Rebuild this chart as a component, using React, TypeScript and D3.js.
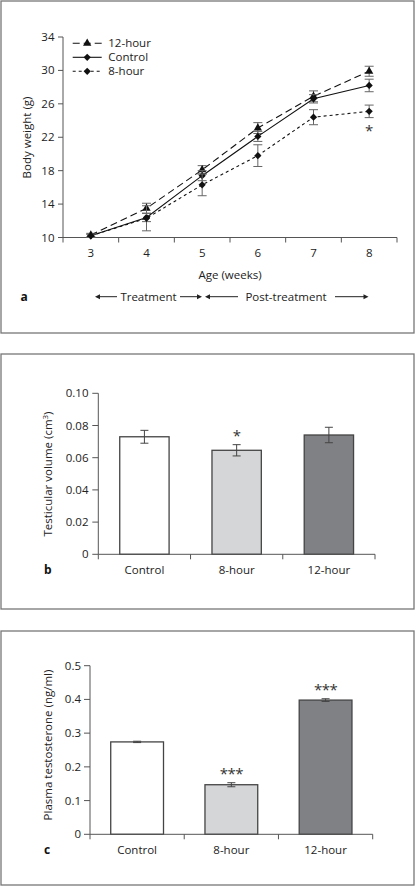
import React from "react";
import * as d3 from "d3";

// ---------- data ----------
const weeks = [3, 4, 5, 6, 7, 8];
const h12 = [10.3, 13.5, 18.1, 23.1, 26.9, 29.9];
const h12Err = [0.2, 0.6, 0.5, 0.65, 0.65, 0.6];
const control = [10.2, 12.4, 17.4, 22.1, 26.6, 28.2];
const controlErr = [0.2, 0.5, 0.6, 0.6, 0.5, 0.75];
const h8 = [10.2, 12.3, 16.3, 19.8, 24.4, 25.1];
const h8Err = [0.2, 1.5, 1.3, 1.3, 0.9, 0.75];
const weightTicks = [10, 14, 18, 22, 26, 30, 34];

const groups = ["Control", "8-hour", "12-hour"];
const groupColors = ["#ffffff", "#d5d6d8", "#808185"];
const volume = [0.073, 0.0646, 0.0741];
const volumeErr = [0.004, 0.0035, 0.0048];
const volumeStars = ["", "*", ""];
const volumeTicks = [0, 0.02, 0.04, 0.06, 0.08, 0.1];

const testo = [0.274, 0.147, 0.398];
const testoErr = [0.002, 0.006, 0.004];
const testoStars = ["", "***", "***"];
const testoTicks = [0, 0.1, 0.2, 0.3, 0.4, 0.5];

const FONT = "'Open Sans', sans-serif";
const FS = 11.5;
const AX = "#555";
const ERR = "#666";

function LinePanel() {
  const x = d3.scaleBand<number>().domain(weeks).range([63, 397]).padding(0);
  const y = d3.scaleLinear().domain([10, 34]).range([237.5, 37]);
  const cx = (w: number) => (x(w) as number) + x.bandwidth() / 2;
  const line = d3
    .line<number>()
    .x((_, i) => cx(weeks[i]))
    .y((d) => y(d));
  const series = [
    { name: "12-hour", vals: h12, err: h12Err, dash: "7,4", sym: d3.symbolTriangle, size: 30, rot: 0 },
    { name: "Control", vals: control, err: controlErr, dash: "", sym: d3.symbolSquare, size: 26, rot: 45 },
    { name: "8-hour", vals: h8, err: h8Err, dash: "3,3", sym: d3.symbolSquare, size: 26, rot: 45 },
  ];
  const boundaries = [...weeks.map((w) => x(w) as number), 397];
  return (
    <g>
      <rect x={1} y={1} width={413} height={332} fill="none" stroke="#777" strokeWidth={1.3} />
      {/* y axis */}
      <line x1={63} x2={63} y1={37} y2={237.5} stroke={AX} strokeWidth={1} />
      {weightTicks.map((t) => (
        <g key={t}>
          <line x1={58} x2={63} y1={y(t)} y2={y(t)} stroke={AX} />
          <text x={54.5} y={y(t) + 4} textAnchor="end" fontSize={FS} fill="#222">{t}</text>
        </g>
      ))}
      {/* x axis */}
      <line x1={63} x2={397} y1={237.5} y2={237.5} stroke={AX} />
      {boundaries.map((b, i) => (
        <line key={i} x1={b} x2={b} y1={237.5} y2={242.5} stroke={AX} />
      ))}
      {weeks.map((w) => (
        <text key={w} x={cx(w)} y={257} textAnchor="middle" fontSize={FS} fill="#222">{w}</text>
      ))}
      <text x={230} y={279} textAnchor="middle" fontSize={FS} fill="#222">Age (weeks)</text>
      <text transform="translate(31,137.5) rotate(-90)" textAnchor="middle" fontSize={FS} fill="#222">Body weight (g)</text>
      {/* series */}
      {series.map((s) => (
        <g key={s.name}>
          {s.vals.map((v, i) => {
            const px = cx(weeks[i]);
            return (
              <g key={i} stroke={ERR} strokeWidth={1}>
                <line x1={px} x2={px} y1={y(v - s.err[i])} y2={y(v + s.err[i])} />
                <line x1={px - 4.5} x2={px + 4.5} y1={y(v - s.err[i])} y2={y(v - s.err[i])} />
                <line x1={px - 4.5} x2={px + 4.5} y1={y(v + s.err[i])} y2={y(v + s.err[i])} />
              </g>
            );
          })}
          <path d={line(s.vals) || ""} fill="none" stroke="#111" strokeWidth={1.1} strokeDasharray={s.dash} />
          {s.vals.map((v, i) => (
            <path key={i} d={d3.symbol().type(s.sym).size(s.size)() || ""} transform={`translate(${cx(weeks[i])},${y(v)}) rotate(${s.rot})`} fill="#111" />
          ))}
        </g>
      ))}
      <text x={cx(8)} y={135.5} textAnchor="middle" fontSize={15} fill="#333">*</text>
      {/* legend */}
      {series.map((s, i) => {
        const ly = 43.3 + i * 14;
        return (
          <g key={s.name}>
            <line x1={72.7} x2={101.7} y1={ly} y2={ly} stroke="#111" strokeWidth={1.1} strokeDasharray={s.dash} />
            <path d={d3.symbol().type(s.sym).size(s.size)() || ""} transform={`translate(87.2,${ly}) rotate(${s.rot})`} fill="#111" />
            <text x={108.3} y={ly + 4} fontSize={FS} fill="#222">{s.name}</text>
          </g>
        );
      })}
      {/* panel letter and treatment arrows */}
      <text x={20.5} y={300.5} fontSize={12} fontWeight="bold" fill="#111">a</text>
      <g stroke="#222" strokeWidth={1} fill="#222" fontSize={FS}>
        <line x1={97} x2={117} y1={296.7} y2={296.7} />
        <path d="M95,296.7 L100,294.2 L100,299.2 Z" stroke="none" />
        <line x1={180} x2={199} y1={296.7} y2={296.7} />
        <path d="M202,296.7 L197,294.2 L197,299.2 Z" stroke="none" />
        <line x1={207} x2={238} y1={296.7} y2={296.7} />
        <path d="M205,296.7 L210,294.2 L210,299.2 Z" stroke="none" />
        <line x1={335} x2={366} y1={296.7} y2={296.7} />
        <path d="M368.5,296.7 L363.5,294.2 L363.5,299.2 Z" stroke="none" />
      </g>
      <text x={148.5} y={300.7} textAnchor="middle" fontSize={FS} fill="#222">Treatment</text>
      <text x={286} y={300.7} textAnchor="middle" fontSize={FS} fill="#222">Post-treatment</text>
    </g>
  );
}

type BarProps = {
  top: number; height: number; x0: number; x1: number; y0: number; y1: number;
  max: number; vals: number[]; errs: number[]; stars: string[]; ticks: number[];
  fmt: (v: number) => string; labelEnd: number; ylabel: React.ReactNode; ylabelY: number;
  letter: string; barFrac: number; starSize: number;
};

function BarPanel(p: BarProps) {
  const x = d3.scaleBand<string>().domain(groups).range([p.x0, p.x1]).padding(0);
  const y = d3.scaleLinear().domain([0, p.max]).range([p.y0, p.y1]);
  const bw = x.bandwidth() * p.barFrac;
  const boundaries = [...groups.map((g) => x(g) as number), p.x1];
  return (
    <g>
      <rect x={1} y={p.top} width={413} height={p.height} fill="none" stroke="#777" strokeWidth={1.3} />
      <line x1={p.x0} x2={p.x0} y1={p.y1} y2={p.y0} stroke={AX} />
      {p.ticks.map((t) => (
        <g key={t}>
          <line x1={p.x0 - 6} x2={p.x0} y1={y(t)} y2={y(t)} stroke={AX} />
          <text x={p.labelEnd} y={y(t) + 4} textAnchor="end" fontSize={FS} fill="#222">{p.fmt(t)}</text>
        </g>
      ))}
      {groups.map((g, i) => {
        const cx = (x(g) as number) + x.bandwidth() / 2;
        const v = p.vals[i];
        const e = p.errs[i];
        return (
          <g key={g}>
            <rect x={cx - bw / 2} y={y(v)} width={bw} height={p.y0 - y(v)} fill={groupColors[i]} stroke="#444" strokeWidth={1.3} />
            <g stroke="#444" strokeWidth={1}>
              <line x1={cx} x2={cx} y1={y(v - e)} y2={y(v + e)} />
              <line x1={cx - 4} x2={cx + 4} y1={y(v - e)} y2={y(v - e)} />
              <line x1={cx - 4} x2={cx + 4} y1={y(v + e)} y2={y(v + e)} />
            </g>
            {p.stars[i] && (
              <text x={cx} y={y(v + e) - 4} textAnchor="middle" fontSize={p.starSize} fill="#333" letterSpacing={-0.5}>{p.stars[i]}</text>
            )}
            <text x={cx} y={p.y0 + 19.5} textAnchor="middle" fontSize={FS} fill="#222">{g}</text>
          </g>
        );
      })}
      <line x1={p.x0} x2={p.x1} y1={p.y0} y2={p.y0} stroke={AX} />
      {boundaries.map((b, i) => (
        <line key={i} x1={b} x2={b} y1={p.y0} y2={p.y0 + 5} stroke={AX} />
      ))}
      <text transform={`translate(52,${p.ylabelY}) rotate(-90)`} textAnchor="middle" fontSize={FS} fill="#222">{p.ylabel}</text>
      <text x={44} y={p.y0 + 19.5} fontSize={12} fontWeight="bold" fill="#111">{p.letter}</text>
    </g>
  );
}

export default function App() {
  return (
    <svg width={416} height={886} style={{ position: "absolute", left: 0, top: 0, background: "#fff" }} fontFamily={FONT}>
      <rect width={416} height={886} fill="#fff" />
      <LinePanel />
      <BarPanel
        top={354} height={255} x0={98.3} x1={375} y0={554.3} y1={393.3} max={0.1}
        vals={volume} errs={volumeErr} stars={volumeStars} ticks={volumeTicks}
        fmt={(v) => (v === 0 ? "0" : d3.format(".2f")(v))} labelEnd={88.5}
        ylabel={<>Testicular volume (cm<tspan fontSize={8} dy={-4}>3</tspan><tspan dy={4}>)</tspan></>}
        ylabelY={474} letter="b" barFrac={0.535} starSize={15}
      />
      <BarPanel
        top={631} height={254} x0={90} x1={372.7} y0={834.3} y1={665.7} max={0.5}
        vals={testo} errs={testoErr} stars={testoStars} ticks={testoTicks}
        fmt={(v) => (v === 0 ? "0" : d3.format(".1f")(v))} labelEnd={81}
        ylabel="Plasma testosterone (ng/ml)" ylabelY={745} letter="c" barFrac={0.56} starSize={15}
      />
    </svg>
  );
}
